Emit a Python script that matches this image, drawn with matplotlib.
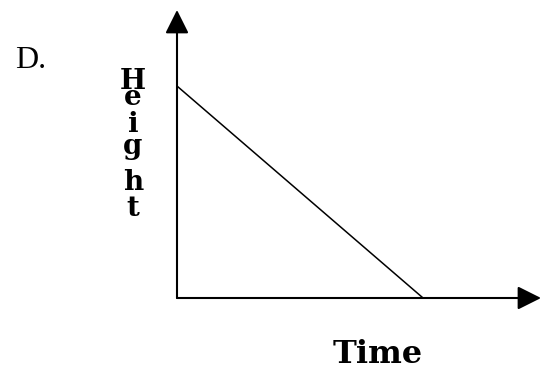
import matplotlib
matplotlib.use('Agg')
import matplotlib.pyplot as plt

# data: straight-line decrease of height with time
time = [0, 6.76]
height = [7.36, 0]
y_letters = ['H', 'e', 'i', 'g', 'h', 't']

W, H = 542, 373
fig = plt.figure(figsize=(W / 100, H / 100), dpi=100)

# axes origin at (177, 298) px, arrows reach x=541 and y=10
ax = fig.add_axes([177 / W, (H - 298) / H, (541 - 177) / W, (298 - 10) / H])
ax.set_xlim(0, 10)
ax.set_ylim(0, 10)
ax.axis('off')

ax.plot(time, height, color='black', lw=1.1, solid_capstyle='butt')

arrow = dict(arrowstyle='-|>,head_length=1,head_width=0.5', mutation_scale=14.4,
             lw=1.5, color='black', shrinkA=0, shrinkB=0)
ax.annotate('', xy=(1, 0), xytext=(0, 0), xycoords='axes fraction',
            arrowprops=arrow, annotation_clip=False)
ax.annotate('', xy=(0, 1), xytext=(0, 0), xycoords='axes fraction',
            arrowprops=arrow, annotation_clip=False)


def px(x, y):
    return x / W, 1 - y / H


fig.text(*px(15, 68), 'D.', family='Liberation Serif', fontsize=23, va='baseline')

fig.text(*px(378, 363), 'Time', family='DejaVu Serif', fontweight='bold',
         fontsize=23, ha='center', va='baseline')

# stacked letters of the y label
baselines = [89, 105, 132, 154, 190, 216]
for ch, yb in zip(y_letters, baselines):
    fig.text(*px(133, yb), ch, family='DejaVu Serif', fontweight='bold',
             fontsize=20, ha='center', va='baseline')

fig.savefig('out.png', dpi=100)
